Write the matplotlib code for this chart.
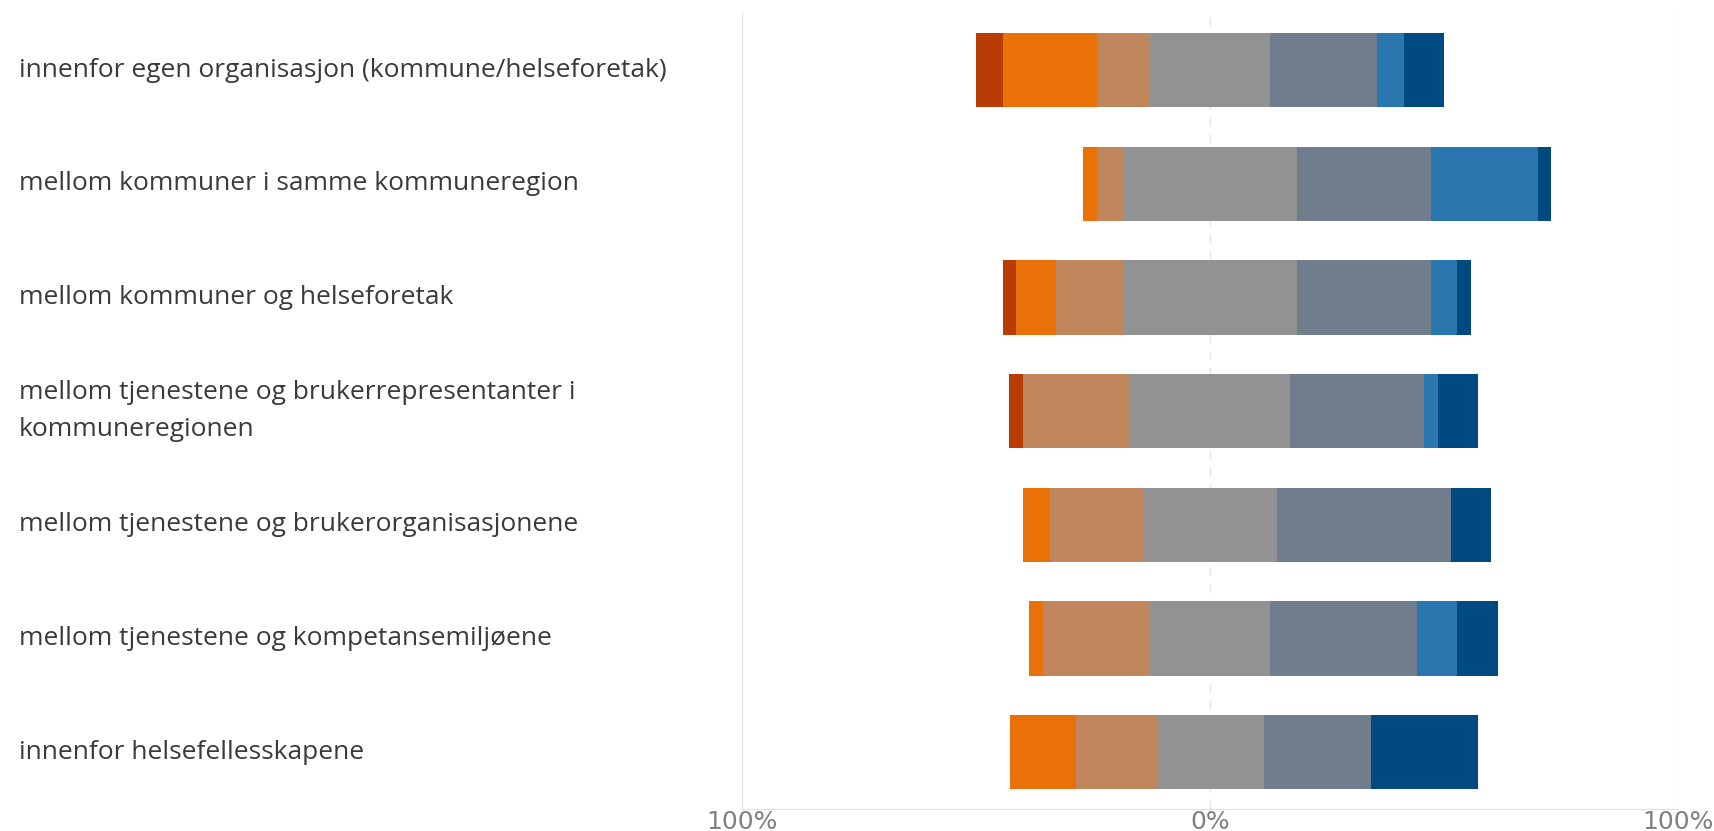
import matplotlib
matplotlib.use("Agg")
from matplotlib import pyplot as plt
from matplotlib.transforms import blended_transform_factory
import numpy as np

# categories (top to bottom)
labels = [
    "innenfor egen organisasjon (kommune/helseforetak)",
    "mellom kommuner i samme kommuneregion",
    "mellom kommuner og helseforetak",
    "mellom tjenestene og brukerrepresentanter i\nkommuneregionen",
    "mellom tjenestene og brukerorganisasjonene",
    "mellom tjenestene og kompetansemiljøene",
    "innenfor helsefellesskapene",
]

# percent per answer level, from most negative to most positive
strongly_neg = [5.7, 0.0, 2.9, 2.9, 0.0, 0.0, 0.0]
neg = [20.0, 2.9, 8.6, 0.0, 5.7, 2.9, 14.3]
slightly_neg = [11.4, 5.7, 14.3, 22.9, 20.0, 22.9, 17.1]
neutral = [25.7, 37.1, 37.1, 34.3, 28.6, 25.7, 22.9]
slightly_pos = [22.9, 28.6, 28.6, 28.6, 37.1, 31.4, 22.9]
pos = [5.7, 22.9, 5.7, 2.9, 0.0, 8.6, 0.0]
strongly_pos = [8.6, 2.9, 2.9, 8.6, 8.6, 8.6, 22.9]

colors = ["#B83C04", "#EA7108", "#C1875C", "#929292", "#6F7D8C", "#2A77AF", "#004A82"]

series = [strongly_neg, neg, slightly_neg, neutral, slightly_pos, pos, strongly_pos]
series = [np.array(s) for s in series]

fig = plt.figure(figsize=(17.14, 8.31), dpi=100)
ax = fig.add_axes([0.433, 0.0265, 0.546, 0.9575])

y = np.arange(len(labels))
# bars are centred on the middle of the neutral segment
start = -(series[0] + series[1] + series[2] + series[3] / 2)
left = start.copy()
for vals, col in zip(series, colors):
    ax.barh(y, vals, left=left, height=0.655, color=col, edgecolor="none", zorder=3)
    left = left + vals

ax.set_xlim(-100, 100)
ax.set_ylim(6.5, -0.5)

# grid lines
ax.axvline(-100, color="#e4e4e4", lw=1, zorder=1)
ax.axvline(100, color="#e4e4e4", lw=1, zorder=1)
ax.axvline(0, color="#e4e4e4", lw=1, ls=(0, (6, 6)), zorder=1)

for s in ["top", "right", "left"]:
    ax.spines[s].set_visible(False)
ax.spines["bottom"].set_color("#e0e0e0")

ax.set_yticks([])
ax.set_xticks([-100, 0, 100])
ax.set_xticklabels(["100%", "0%", "100%"], fontsize=18, color="#808080")
ax.tick_params(axis="x", length=0, pad=1)

trans = blended_transform_factory(fig.transFigure, ax.transData)
for i, lab in enumerate(labels):
    ax.text(0.011, i, lab, transform=trans, ha="left", va="center",
            fontsize=19, color="#3a3a3a", fontfamily="Open Sans",
            linespacing=1.6)

fig.savefig("out.png", dpi=100)
